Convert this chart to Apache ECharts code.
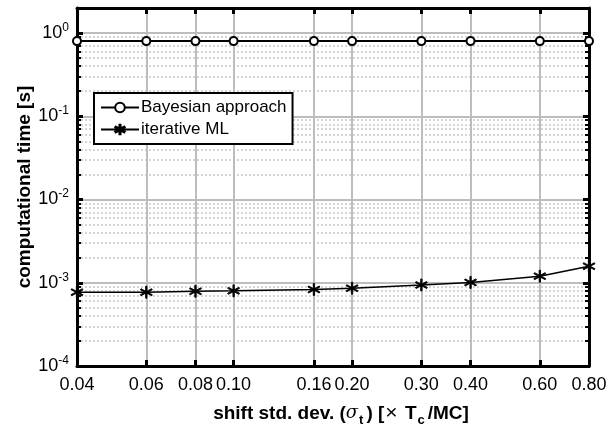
<!DOCTYPE html>
<html>
<head>
<meta charset="utf-8">
<script src="https://cdn.jsdelivr.net/npm/echarts@6/dist/echarts.min.js"></script>
<style>
  html, body { margin: 0; padding: 0; background: #fff; }
  #main { width: 615px; height: 425px; }
</style>
</head>
<body>
<div id="main"></div>
<script>
// shift std. dev. values (x) and timings
var shifts = [0.04, 0.06, 0.08, 0.10, 0.16, 0.20, 0.30, 0.40, 0.60, 0.80];
var bayesTime = [0.80, 0.80, 0.80, 0.80, 0.80, 0.80, 0.80, 0.80, 0.80, 0.80];
var mlTime = [0.00077, 0.00077, 0.00079, 0.00080, 0.00083, 0.00086, 0.00094, 0.00101, 0.00120, 0.00158];
var xTicks = [0.04, 0.06, 0.08, 0.10, 0.16, 0.20, 0.30, 0.40, 0.60, 0.80];
var yTicks = [1e-4, 1e-3, 1e-2, 1e-1, 1];
var yMinor = [];
for (var d = 1e-4; d < 1; d *= 10) {
  for (var k = 2; k <= 9; k++) yMinor.push(+(k * d).toPrecision(3));
}
yMinor.push(2);

var FONT = 'Liberation Sans';
var asterisk = 'path://M-0.1,-1L0.1,-1L0.1,1L-0.1,1Z' +
  'M0.816,0.587L0.916,0.413L-0.816,-0.587L-0.916,-0.413Z' +
  'M0.916,-0.413L0.816,-0.587L-0.916,0.413L-0.816,0.587Z';

function pairs(ys) {
  var out = [];
  for (var i = 0; i < shifts.length; i++) out.push([shifts[i], ys[i]]);
  return out;
}

var myChart = echarts.init(document.getElementById('main'));
var option = {
  animation: false,
  backgroundColor: '#fff',
  textStyle: { fontFamily: FONT },
  grid: { left: 77, right: 26, top: 8, bottom: 59, outerBoundsMode: 'none', containLabel: false },
  legend: {
    orient: 'vertical',
    left: 94, top: 93,
    padding: [6, 6, 6, 6],
    itemGap: 5,
    itemWidth: 38, itemHeight: 12,
    backgroundColor: '#fff',
    borderColor: '#000', borderWidth: 2, borderRadius: 0,
    textStyle: { fontFamily: FONT, fontSize: 17, color: '#000', padding: [0, 0, 0, -3] },
    data: ['Bayesian approach', 'iterative ML']
  },
  xAxis: [{
    type: 'log',
    min: 0.04, max: 0.8,
    name: '{n|shift std. dev. (}{i|σ}{sub|t}{n|) [}{x|×}{n| T}{sub|c}{n|/MC]}',
    nameLocation: 'middle',
    nameGap: 34,
    nameMoveOverlap: false,
    nameTextStyle: {
      padding: [0, 0, 0, 16],
      rich: {
        n: { fontFamily: FONT, fontSize: 19, fontWeight: 'bold', color: '#000' },
        x: { fontFamily: FONT, fontSize: 21, color: '#000', padding: [0, 2, 0, 1] },
        i: { fontFamily: 'DejaVu Serif', fontSize: 18, fontStyle: 'italic', color: '#000' },
        sub: { fontFamily: FONT, fontSize: 13, fontWeight: 'bold', color: '#000', padding: [14, 3, 0, 1] }
      }
    },
    axisLine: { show: true, onZero: false, lineStyle: { color: '#000', width: 3 } },
    axisTick: { show: true, inside: true, length: 6, customValues: xTicks, lineStyle: { color: '#000', width: 3 } },
    axisLabel: {
      customValues: xTicks,
      margin: 10,
      fontSize: 18, color: '#000', fontFamily: FONT,
      formatter: function (v) { return v.toFixed(2); }
    },
    splitLine: { show: true, lineStyle: { color: '#bdbdbd', width: 2 } },
    minorTick: { show: false }
  }, {
    type: 'log',
    position: 'top',
    min: 0.04, max: 0.8,
    axisLine: { show: true, lineStyle: { color: '#000', width: 3 } },
    axisTick: { show: true, inside: true, length: 6, customValues: xTicks, lineStyle: { color: '#000', width: 3 } },
    axisLabel: { show: false },
    splitLine: { show: false }
  }],
  yAxis: [{
    type: 'log',
    min: 1e-4, max: 2,
    name: 'computational time [s]',
    nameLocation: 'middle',
    nameGap: 43,
    nameMoveOverlap: false,
    nameTextStyle: { fontFamily: FONT, fontSize: 19, fontWeight: 'bold', color: '#000' },
    axisLine: { show: true, onZero: false, lineStyle: { color: '#000', width: 3 } },
    axisTick: { show: true, inside: true, length: 6, customValues: yTicks, lineStyle: { color: '#000', width: 3 } },
    axisLabel: {
      customValues: yTicks,
      margin: 8,
      formatter: function (v) {
        return '{b|10}{s|' + Math.round(Math.log10(v)) + '}';
      },
      rich: {
        b: { fontFamily: FONT, fontSize: 18, color: '#000' },
        s: { fontFamily: FONT, fontSize: 12, color: '#000', padding: [0, 0, 11, 0] }
      }
    },
    splitLine: { show: true, lineStyle: { color: '#bdbdbd', width: 2 } }
  }, {
    type: 'log',
    min: 1e-4, max: 2,
    position: 'left',
    axisLine: { show: false },
    axisTick: { show: true, inside: true, length: 4, customValues: yMinor, lineStyle: { color: '#000', width: 2 } },
    axisLabel: { show: false },
    splitLine: { show: true, lineStyle: { color: '#c8c8c8', width: 1.5, type: [2, 2] } }
  }, {
    type: 'log',
    min: 1e-4, max: 2,
    position: 'right',
    axisLine: { show: true, lineStyle: { color: '#000', width: 3 } },
    axisTick: { show: true, inside: true, length: 6, customValues: yTicks, lineStyle: { color: '#000', width: 3 } },
    axisLabel: { show: false },
    splitLine: { show: false }
  }, {
    type: 'log',
    min: 1e-4, max: 2,
    position: 'right',
    axisLine: { show: false },
    axisTick: { show: true, inside: true, length: 4, customValues: yMinor, lineStyle: { color: '#000', width: 2 } },
    axisLabel: { show: false },
    splitLine: { show: false }
  }],
  series: [{
    name: 'Bayesian approach',
    type: 'line',
    data: pairs(bayesTime),
    symbol: 'circle',
    symbolSize: 8,
    itemStyle: { color: '#fff', borderColor: '#000', borderWidth: 2 },
    lineStyle: { color: '#000', width: 2 },
    z: 5
  }, {
    name: 'iterative ML',
    type: 'line',
    data: pairs(mlTime),
    symbol: asterisk,
    symbolSize: 12,
    itemStyle: { color: '#000', borderColor: '#000', borderWidth: 0.9 },
    lineStyle: { color: '#000', width: 1.5 },
    z: 5
  }]
};
myChart.setOption(option);
</script>
</body>
</html>
